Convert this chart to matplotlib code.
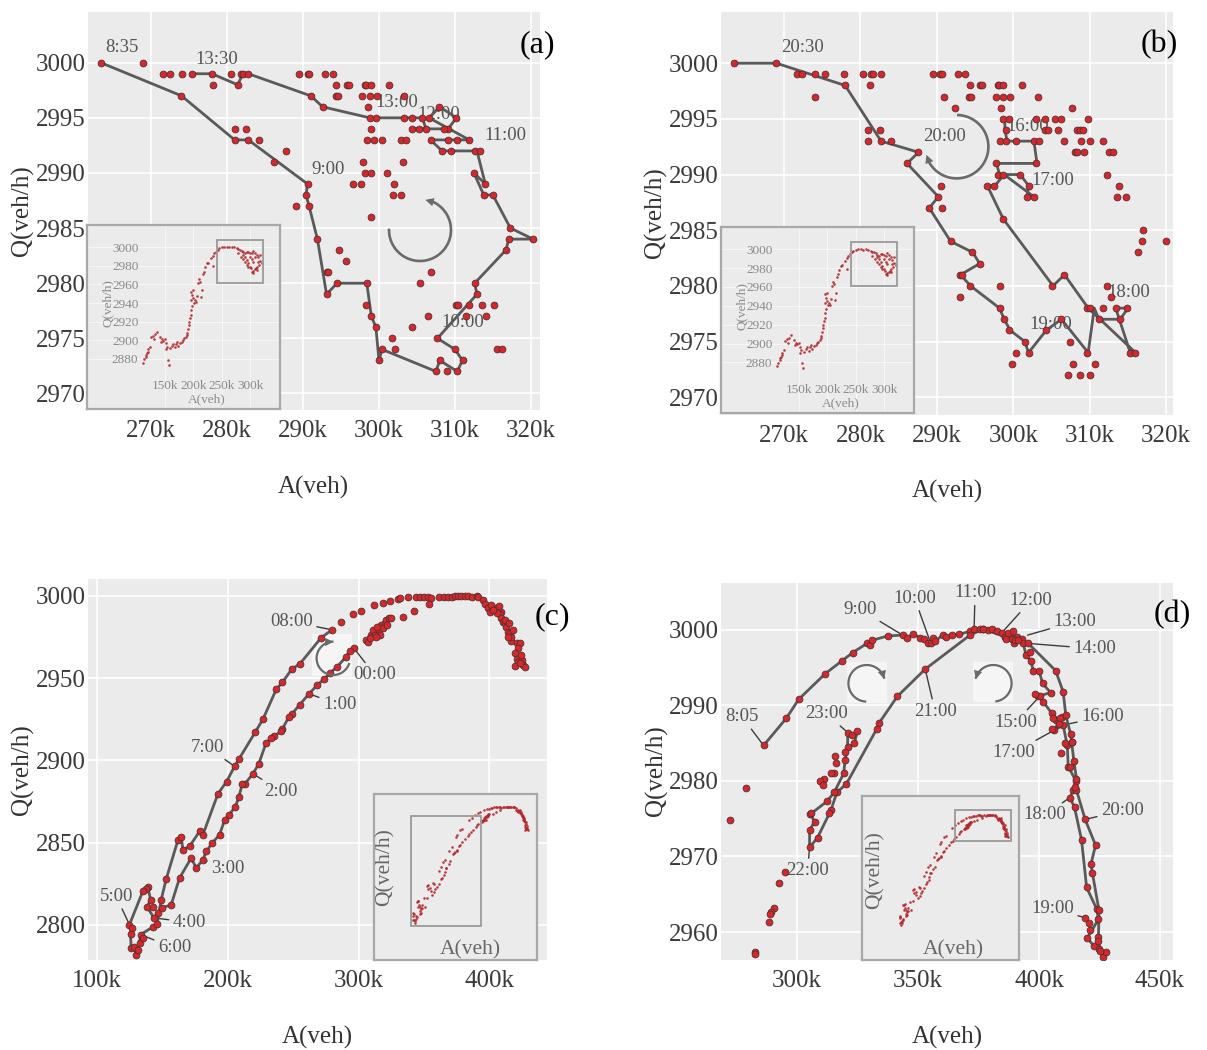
import numpy as np
import matplotlib
matplotlib.use("Agg")
import matplotlib.pyplot as plt
from matplotlib.patches import Rectangle, FancyArrowPatch
from matplotlib.lines import Line2D
from matplotlib.ticker import FuncFormatter

plt.rcParams['font.family'] = ['Liberation Serif', 'DejaVu Serif']

# ---------------- DATA (A in thousands of veh, Q in veh/h) ----------------
# panel (a): dots grouped by Q level
a_levels = [3000, 2999, 2998, 2997, 2996, 2995, 2994, 2993, 2992, 2991, 2990, 2989, 2988,
            2987, 2986, 2985, 2984, 2983, 2982, 2981, 2980, 2979, 2978, 2977, 2976, 2975,
            2974, 2973, 2972]
a_A_by_level = [
    [263.4, 269.0],
    [271.6, 272.5, 274.1, 275.4, 278.0, 280.5, 281.8, 282.1, 282.8, 289.5, 290.6, 290.8, 292.9, 293.9],
    [278.1, 281.4, 294.4, 295.8, 296.1, 298.1, 298.3, 299.0, 301.3],
    [274.0, 291.0, 294.3, 294.6, 297.8, 298.8, 299.8, 303.3],
    [292.6, 298.6, 307.9],
    [298.8, 299.6, 303.3, 304.4, 305.7, 306.6, 310.2],
    [281.0, 282.5, 299.0, 304.4, 305.3, 306.2, 309.1, 308.6],
    [281.0, 282.8, 284.2, 298.4, 299.3, 300.4, 302.9, 303.6, 306.8, 309.1, 310.3, 311.8],
    [287.7, 308.3, 309.5, 312.7, 313.3],
    [286.2, 297.9, 303.2],
    [298.2, 298.9, 301.1, 312.5],
    [290.6, 296.6, 297.7, 302.0, 314.0],
    [290.4, 301.9, 302.9, 313.8, 315.0],
    [289.1, 290.8],
    [298.9],
    [317.3],
    [291.9, 317.1, 320.3],
    [294.7, 316.7],
    [295.7],
    [293.1, 293.3, 306.9],
    [294.5, 298.4, 305.4, 312.6],
    [293.1, 312.9],
    [298.3, 310.1, 310.4, 311.8, 313.6, 315.2],
    [299.0, 306.4, 311.5, 314.1],
    [299.6, 304.4],
    [301.7, 307.7],
    [300.4, 302.1, 310.0, 315.6, 316.2],
    [300.0, 308.0, 311.0],
    [307.5, 308.9, 310.3],
]
a_path_A = [263.4, 274.0, 281.0, 282.8, 290.6, 290.4, 290.8, 291.9, 293.1, 294.5, 298.4, 299.0,
            299.6, 300.0, 300.4, 307.5, 308.0, 310.3, 311.0, 310.0, 307.7, 312.9, 312.6, 316.7,
            317.1, 320.3, 317.3, 315.0, 313.8, 312.5, 314.0, 312.9, 308.3, 306.8, 311.9, 306.6,
            308.0, 310.2, 309.1, 304.4, 306.2, 305.7, 303.3, 299.6, 298.8, 292.6, 291.0, 282.8,
            282.1, 281.4, 278.0, 275.4]
a_path_Q = [3000, 2997, 2993, 2993, 2989, 2988, 2987, 2984, 2979, 2980, 2980, 2977, 2976, 2973,
            2974, 2972, 2973, 2972, 2973, 2974, 2975, 2979, 2980, 2983, 2984, 2984, 2985, 2988,
            2988, 2990, 2989, 2992, 2992, 2993, 2993, 2995, 2996, 2995, 2994, 2994, 2994, 2995,
            2995, 2995, 2995, 2996, 2997, 2999, 2999, 2998, 2999, 2999]
a_labels = ['8:35', '13:30', '13:00', '12:00', '11:00', '9:00', '10:00']

# panel (b)
b_levels = a_levels
b_A_by_level = [
    [263.4, 269.0],
    [271.7, 272.4, 274.0, 275.3, 277.9, 280.3, 281.4, 281.7, 282.7, 289.5, 290.4, 290.7, 292.7, 293.7],
    [278.0, 281.3, 294.3, 295.7, 295.9, 298.0, 298.1, 298.7, 301.1],
    [274.0, 290.9, 294.2, 294.5, 297.7, 298.7, 299.6, 303.2],
    [292.4, 298.4, 307.7],
    [298.7, 299.4, 303.0, 304.1, 305.5, 306.3, 309.8],
    [281.0, 282.5, 299.0, 304.1, 304.6, 305.9, 308.3, 308.7, 309.1],
    [281.0, 282.7, 284.0, 298.3, 299.1, 300.3, 302.7, 303.4, 306.6, 308.9, 310.1, 311.7],
    [287.5, 308.1, 308.3, 309.3, 312.5, 313.0],
    [286.1, 297.8, 303.0],
    [298.0, 298.7, 300.9, 312.2],
    [290.5, 296.5, 297.5, 302.0, 313.8],
    [290.2, 301.8, 302.7, 313.6, 314.7],
    [289.0, 290.7],
    [298.7],
    [317.0],
    [291.8, 316.8, 320.0],
    [294.6, 316.3],
    [295.6],
    [293.0, 293.3, 306.7],
    [294.3, 298.2, 305.1, 312.3],
    [293.0, 312.8],
    [298.2, 309.7, 310.1, 311.7, 313.4, 314.9],
    [298.8, 306.2, 311.2, 313.9],
    [299.5, 304.3],
    [301.5, 307.4],
    [300.3, 302.0, 309.7, 315.3, 315.9],
    [299.8, 307.8, 310.7],
    [307.2, 308.7, 310.1],
]
b_path_A = [298.9, 298.9, 299.2, 302.7, 303.1, 297.8, 298.2, 300.9, 302.0, 301.8, 302.7, 298.8,
            297.6, 296.6, 298.7, 305.2, 306.7, 309.8, 316.0, 315.3, 313.4, 315.0, 314.0, 311.2,
            310.6, 309.8, 306.3, 304.3, 302.0, 301.5, 299.6, 298.8, 298.2, 294.4, 293.1, 295.6,
            294.7, 291.8, 289.0, 290.2, 286.1, 287.6, 282.7, 278.0, 269.0, 263.4]
b_path_Q = [2995, 2994, 2993, 2993, 2991, 2991, 2990, 2990, 2989, 2988, 2988, 2990, 2989, 2989,
            2986, 2980, 2981, 2978, 2974, 2974, 2978, 2978, 2977, 2977, 2978, 2974, 2977, 2976,
            2974, 2975, 2976, 2977, 2978, 2980, 2981, 2982, 2983, 2984, 2987, 2988, 2991, 2992,
            2993, 2998, 3000, 3000]
b_labels = ['20:30', '20:00', '16:00', '17:00', '18:00', '19:00']

# overview inset of (a)/(b)
ins_ab_A = [110.6, 113.5, 115.9, 117.6, 120.6, 116.5, 119.4, 124.7, 128.2, 132.4,
            135.3, 130.6, 123.5, 141.2, 142.9, 144.1, 147.1, 150.0, 151.8, 154.1,
            151.8, 155.9, 157.6, 158.8, 161.8, 164.7, 167.6, 169.4, 170.6, 173.5,
            176.5, 179.4, 182.4, 183.5, 187.1, 188.2, 189.4, 191.2, 191.8, 192.9,
            194.1, 195.3, 195.9, 197.1, 195.9, 197.1, 195.3, 198.8, 200.0, 202.9,
            204.7, 201.2, 205.9, 208.8, 211.8, 210.6, 214.7, 212.9, 216.5, 218.8,
            220.6, 223.5, 226.5, 230.6, 234.1, 237.1, 240.0, 242.9, 245.9, 250.0,
            254.1, 258.8, 263.5, 267.6, 271.8, 276.5, 279.4, 282.4, 285.3, 288.2,
            291.2, 294.1, 297.1, 300.0, 302.9, 305.9, 308.8, 311.8, 314.7, 317.6,
            320.6, 316.5, 311.8, 308.8, 305.9, 302.9, 300.0, 297.1, 294.1, 291.2,
            288.2, 305.9, 310.0, 312.9, 279.4, 283.5, 287.1, 291.2, 294.1, 297.1,
            301.2, 304.7, 234.1, 300.0, 302.9, 308.8, 314.7, 317.6]
ins_ab_Q = [2876.1, 2879.6, 2882.5, 2886.1, 2887.9, 2884.3, 2890.4, 2903.2, 2904.6, 2906.4,
            2908.9, 2901.1, 2893.2, 2903.9, 2898.6, 2901.1, 2899.6, 2901.1, 2896.8, 2893.2,
            2890.4, 2878.9, 2873.6, 2891.4, 2893.9, 2896.1, 2892.5, 2896.1, 2898.6, 2893.9,
            2897.5, 2898.6, 2900.4, 2902.1, 2903.9, 2905.7, 2908.2, 2911.8, 2916.4, 2920.0,
            2923.6, 2927.1, 2932.5, 2936.8, 2943.2, 2948.6, 2952.1, 2953.9, 2945.0, 2943.2,
            2941.4, 2940.4, 2947.5, 2961.1, 2962.9, 2965.4, 2953.9, 2946.1, 2971.1, 2973.6,
            2978.2, 2982.5, 2983.2, 2987.9, 2990.4, 2993.2, 2995.0, 2996.8, 2998.6, 2999.6,
            3000.4, 3000.4, 2999.6, 3000.4, 2999.6, 2998.6, 2997.5, 2996.8, 2996.1, 2994.3,
            2993.2, 2995.0, 2995.0, 2993.9, 2993.2, 2996.1, 2993.9, 2991.4, 2988.9, 2985.4,
            2983.2, 2980.7, 2978.9, 2976.1, 2974.6, 2973.6, 2978.9, 2982.5, 2986.1, 2989.6,
            2991.4, 2984.3, 2977.1, 2975.4, 2993.2, 2989.6, 2986.8, 2984.3, 2980.7, 2978.9,
            2977.1, 2972.5, 2979.6, 2989.6, 2986.8, 2989.6, 2984.3, 2991.4]

# panel (c): connected trajectory 00:00 -> 08:00
c_path_A = [296.4, 293.1, 290.1, 283.7, 277.8, 273.5, 268.4, 262.0, 254.8, 249.0,
            246.4, 241.6, 240.3, 235.2, 233.2, 229.3, 223.5, 219.1, 212.8, 211.0,
            208.2, 205.6, 200.8, 197.4, 193.6, 188.0, 183.4, 180.9, 175.8, 171.9,
            163.0, 156.6, 149.5, 146.4, 143.4, 138.3, 140.8, 138.8, 137.0, 134.9,
            124.7, 126.5, 125.5, 126.0, 128.1, 129.8, 131.1, 132.4, 133.2, 142.6,
            145.9, 149.0, 152.8, 161.7, 164.3, 165.6, 170.7, 178.3, 180.9, 192.3,
            199.0, 205.1, 208.4, 220.9, 226.8, 237.0, 241.6, 249.0, 254.8, 271.4, 279.6]
c_path_Q = [2968.2, 2966.6, 2962.8, 2957.1, 2953.0, 2949.4, 2945.9, 2940.5, 2933.8, 2928.3,
            2926.3, 2919.0, 2917.6, 2914.6, 2913.6, 2910.9, 2897.8, 2891.9, 2885.6, 2885.6,
            2877.5, 2871.7, 2867.0, 2863.6, 2854.9, 2849.8, 2844.7, 2839.7, 2834.6, 2840.7,
            2828.5, 2812.3, 2810.3, 2807.3, 2804.3, 2810.9, 2815.4, 2822.9, 2821.9, 2820.4,
            2800.2, 2798.2, 2794.7, 2786.0, 2786.6, 2782.0, 2785.0, 2789.1, 2794.1, 2798.8,
            2800.8, 2815.4, 2827.9, 2851.4, 2853.4, 2845.7, 2847.8, 2856.9, 2854.9, 2879.6,
            2887.2, 2896.4, 2900.8, 2917.2, 2925.1, 2943.3, 2947.4, 2955.7, 2958.5, 2974.7, 2979.4]
# panel (c): unconnected dots (day-time arc, evening cluster)
c_dot_A = [286.7, 295.7, 301.5, 311.7, 318.6, 323.7, 330.1, 331.9, 337.8, 344.1,
           346.7, 350.0, 353.1, 355.6, 353.8, 361.5, 365.3, 368.4, 371.7, 373.5,
           376.0, 378.6, 381.1, 383.7, 386.7, 390.1, 391.3, 395.2, 396.4, 399.0,
           400.3, 404.1, 407.1, 409.2, 407.9, 409.2, 410.5, 411.7, 413.0, 414.3,
           415.6, 416.8, 420.7, 423.2, 421.9, 419.4, 420.7, 421.9, 424.5, 425.8,
           427.0, 419.4, 401.5, 405.4, 412.2, 416.3, 418.1, 402.8, 414.8, 413.8,
           424.0, 423.2,
           305.9, 307.1, 309.7, 311.0, 312.8, 315.3, 317.3, 319.9, 321.2, 323.0,
           325.0, 318.6, 316.1, 313.5, 308.4, 314.3, 321.9, 334.0, 342.3, 142.6, 134.9]
c_dot_Q = [2984.4, 2988.9, 2990.9, 2994.5, 2996.0, 2997.0, 2998.2, 2998.6, 2999.2, 2999.6,
           2999.6, 2999.6, 2999.2, 2998.6, 2994.9, 2999.6, 2999.2, 2999.6, 2999.6, 3000.0,
           3000.2, 3000.0, 3000.0, 3000.2, 2999.6, 3000.0, 2999.2, 2997.6, 2995.1, 2992.5,
           2990.5, 2992.5, 2993.9, 2990.5, 2988.9, 2986.4, 2984.4, 2983.4, 2981.4, 2978.3,
           2977.3, 2972.7, 2971.3, 2971.7, 2968.2, 2965.2, 2961.5, 2960.1, 2961.1, 2958.1,
           2956.7, 2957.5, 2994.5, 2989.5, 2985.4, 2975.3, 2979.4, 2991.5, 2983.4, 2975.3,
           2964.2, 2959.1,
           2973.3, 2972.3, 2976.3, 2979.4, 2976.3, 2979.4, 2982.4, 2983.4, 2985.4, 2986.4,
           2986.8, 2980.4, 2976.3, 2975.3, 2974.3, 2981.0, 2982.4, 2987.4, 2991.1, 2810.9, 2792.1]
c_labels = ['08:00', '00:00', '1:00', '2:00', '3:00', '4:00', '5:00', '6:00', '7:00']

# panel (d)
d_path_A = [286.2, 295.6, 300.7, 311.7, 318.6, 323.1, 328.9, 330.0, 330.9, 337.6,
            343.7, 345.4, 348.1, 350.9, 352.3, 354.3, 355.3, 356.4, 357.1, 360.2,
            361.5, 364.0, 367.1, 371.3, 373.2,
            375.7, 377.0, 379.1, 380.5, 382.5, 384.6, 386.0, 388.0, 391.1, 392.8, 393.5,
            394.6, 396.6, 397.7, 400.1, 401.5, 404.8, 399.7, 400.3, 401.7, 405.2,
            407.0, 409.4, 406.2, 410.0, 411.7, 412.1, 415.3, 414.2, 412.8, 414.7,
            417.6, 419.7, 423.8, 424.6, 420.0, 422.6, 424.9, 426.3, 427.8,
            425.3, 424.6, 424.8, 422.1, 421.5, 423.4, 419.1, 415.5, 415.5, 414.4,
            413.5, 413.1, 411.1, 410.0, 406.9, 395.6, 386.0, 377.0, 371.5,
            353.0, 341.5, 334.0, 333.0, 320.4, 316.5, 314.0, 308.5, 305.2, 305.2,
            307.3, 305.5, 312.4, 315.4, 319.3, 319.9, 320.9, 321.0, 322.7, 325.0, 323.7, 319.9]
d_path_Q = [2984.7, 2988.3, 2990.8, 2994.2, 2995.9, 2997.0, 2998.2, 2998.0, 2998.6, 2999.2,
            2999.3, 2998.9, 2999.5, 2998.9, 2998.8, 2998.3, 2998.2, 2998.9, 2998.5, 2999.3,
            2999.0, 2999.3, 2999.4, 2999.8, 3000.1,
            3000.1, 3000.1, 3000.0, 3000.1, 2999.8, 2999.6, 2999.1, 2999.1, 2999.1, 2998.8, 2998.3,
            2996.7, 2995.9, 2994.6, 2994.5, 2992.9, 2991.7, 2991.2, 2991.2, 2990.5, 2989.0,
            2988.1, 2988.4, 2986.7, 2987.4, 2984.7, 2981.9, 2980.0, 2978.8, 2977.8, 2976.5,
            2972.2, 2965.9, 2963.1, 2961.7, 2959.2, 2958.2, 2957.7, 2956.7, 2957.3,
            2957.5, 2959.3, 2962.9, 2967.8, 2969.0, 2971.5, 2974.9, 2978.8, 2980.3, 2982.7,
            2985.2, 2986.2, 2988.7, 2991.8, 2994.6, 2998.2, 2999.1, 3000.1, 2999.3,
            2994.8, 2991.2, 2987.7, 2986.9, 2979.6, 2978.5, 2976.1, 2972.5, 2971.2, 2973.5,
            2974.6, 2975.6, 2977.3, 2978.5, 2981.0, 2982.8, 2984.5, 2986.4, 2986.1, 2986.6, 2985.0, 2983.8]
d_dot_A = [386.4, 387.3, 388.7, 389.8, 390.1, 391.5, 389.4, 396.3, 398.4, 405.2,
           405.9, 408.7, 408.4, 410.7, 409.1, 412.8, 414.9, 421.1, 419.0, 420.8, 424.6, 413.5,
           315.8, 316.2, 315.1, 314.0, 311.3, 309.4, 310.7, 305.8, 313.1,
           272.2, 279.1, 295.2, 292.4, 290.4, 289.4, 289.0, 288.3, 282.5, 282.5]
d_dot_Q = [2998.8, 2999.6, 2998.8, 2998.2, 2998.7, 2998.7, 2999.8, 2997.1, 2991.5, 2986.9,
           2988.3, 2988.3, 2987.5, 2985.0, 2983.7, 2981.8, 2979.2, 2960.3, 2961.9, 2961.2, 2958.8, 2985.2,
           2983.3, 2982.4, 2981.1, 2981.0, 2980.2, 2980.0, 2979.4, 2975.7, 2975.8,
           2974.8, 2979.1, 2967.9, 2966.5, 2963.2, 2962.7, 2962.4, 2961.3, 2957.4, 2957.1]
d_labels = ['8:05', '9:00', '10:00', '11:00', '12:00', '13:00', '14:00', '15:00', '16:00',
            '17:00', '18:00', '19:00', '20:00', '21:00', '22:00', '23:00']

for a_, b_ in [(a_path_A, a_path_Q), (b_path_A, b_path_Q), (c_path_A, c_path_Q),
               (c_dot_A, c_dot_Q), (d_path_A, d_path_Q), (d_dot_A, d_dot_Q), (ins_ab_A, ins_ab_Q)]:
    assert len(a_) == len(b_), (len(a_), len(b_))

# ---------------- FIGURE ----------------
W, H = 1207, 1050
fig = plt.figure(figsize=(W / 100, H / 100), dpi=100)

BG = '#ebebeb'
DOT = '#d8262b'
DOT_EDGE = '#4d3333'
LINE = '#5a5a5a'
LAB_C = '#555555'
TICK_C = '#3a3a3a'
ARC_C = '#6a6a6a'


def px_axes(l, t, r, b):
    return fig.add_axes([l / W, 1 - b / H, (r - l) / W, (b - t) / H])


kfmt = FuncFormatter(lambda v, p: f"{int(round(v))}k")


def style_main(ax, xlim, ylim, xticks, yticks):
    ax.set_facecolor(BG)
    for s in ax.spines.values():
        s.set_visible(False)
    ax.set_xlim(*xlim)
    ax.set_ylim(*ylim)
    ax.set_xticks(xticks)
    ax.set_yticks(yticks)
    ax.xaxis.set_major_formatter(kfmt)
    ax.tick_params(length=0, labelsize=18, colors=TICK_C)
    ax.tick_params(axis='x', pad=7)
    ax.tick_params(axis='y', pad=1.5)
    ax.grid(True, color='white', lw=1.2)
    ax.set_axisbelow(True)


def dots(ax, A, Q):
    ax.scatter(A, Q, s=24, c=DOT, edgecolors=DOT_EDGE, linewidths=0.6, zorder=4)


def path(ax, A, Q):
    ax.plot(A, Q, color=LINE, lw=2.0, zorder=3, solid_joinstyle='round')


def level_points(levels, by_level):
    A, Q = [], []
    for q, row in zip(levels, by_level):
        A.extend(row)
        Q.extend([q] * len(row))
    return A, Q


def arc_arrow(cx, cy, r, a0, a1, color=ARC_C, lw=1.9):
    t = np.radians(np.linspace(a0, a1, 160))
    X = (cx + r * np.cos(t)) / W
    Y = (H - cy + r * np.sin(t)) / H
    fig.add_artist(Line2D(X[:-8], Y[:-8], transform=fig.transFigure, color=color, lw=lw))
    fig.add_artist(FancyArrowPatch((X[-14], Y[-14]), (X[-1], Y[-1]), transform=fig.transFigure,
                                   arrowstyle='-|>', mutation_scale=15, color=color, lw=0))


def light_square(ax, l, t, r, b):
    ax.add_patch(Rectangle((l / W, 1 - b / H), (r - l) / W, (b - t) / H, transform=fig.transFigure,
                           facecolor='#f5f5f5', edgecolor='none', zorder=0.6))


def lead(ax, txt, xy, xytext):
    ax.annotate(txt, xy=xy, xytext=xytext, fontsize=13.5, color=LAB_C, ha='center', va='center',
                zorder=2, arrowprops=dict(arrowstyle='-', color='#3c3c3c', lw=1.0,
                                          shrinkA=1, shrinkB=2))


def inset_ab(l, t, r, b):
    ax = px_axes(l, t, r, b)
    ax.set_facecolor(BG)
    for s in ax.spines.values():
        s.set_color('#a8a8a8')
        s.set_linewidth(1.6)
    ax.set_xlim(12.4, 352.8)
    ax.set_ylim(2826.4, 3023.6)
    ax.set_xticks([150, 200, 250, 300])
    ax.set_yticks([2880, 2900, 2920, 2940, 2960, 2980, 3000])
    ax.xaxis.set_major_formatter(kfmt)
    ax.tick_params(length=0, labelsize=9.5, colors='#8a8a8a')
    ax.tick_params(axis='y', pad=-37)
    ax.tick_params(axis='x', pad=-21)
    ax.grid(True, color='white', lw=0.8, alpha=0.6)
    ax.set_axisbelow(True)
    ax.scatter(ins_ab_A, ins_ab_Q, s=3.5, c='#b3282c', linewidths=0, alpha=0.9)
    ax.add_patch(Rectangle((241.2, 2961.1), 82.2, 46.4, fill=False, edgecolor='#9a9a9a', lw=1.3))
    ax.text(0.109, 0.575, 'Q(veh/h)', rotation=90, transform=ax.transAxes, fontsize=9.5,
            color='#8a8a8a', ha='center', va='center')
    ax.text(0.62, 0.053, 'A(veh)', transform=ax.transAxes, fontsize=9.5,
            color='#8a8a8a', ha='center', va='center')
    return ax


def inset_cd(l, t, r, b, xlim, ylim, rect, qpos, apos):
    ax = px_axes(l, t, r, b)
    ax.set_facecolor(BG)
    for s in ax.spines.values():
        s.set_color('#a8a8a8')
        s.set_linewidth(1.6)
    ax.set_xlim(*xlim)
    ax.set_ylim(*ylim)
    ax.set_xticks([])
    ax.set_yticks([])
    ax.scatter(c_path_A + c_dot_A, c_path_Q + c_dot_Q, s=3.5, c='#b3282c', linewidths=0, alpha=0.9)
    ax.add_patch(Rectangle(rect[:2], rect[2], rect[3], fill=False, edgecolor='#9a9a9a', lw=1.3))
    ax.text(qpos[0], qpos[1], 'Q(veh/h)', rotation=90, transform=ax.transAxes, fontsize=15.5,
            color='#666666', ha='center', va='center')
    ax.text(apos[0], apos[1], 'A(veh)', transform=ax.transAxes, fontsize=15.5,
            color='#666666', ha='center', va='center')
    return ax


# ---------- panel (a) ----------
axa = px_axes(88, 12, 540, 410)
style_main(axa, (261.7, 321.2), (2968.5, 3004.6), [270, 280, 290, 300, 310, 320],
           [2970, 2975, 2980, 2985, 2990, 2995, 3000])
A, Q = level_points(a_levels, a_A_by_level)
path(axa, a_path_A, a_path_Q)
dots(axa, A, Q)
for txt, pos in zip(a_labels, [(266.2, 3001.4), (278.7, 3000.3), (302.4, 2996.4), (307.9, 2995.3),
                               (316.7, 2993.4), (293.3, 2990.3), (311.1, 2976.4)]):
    axa.text(pos[0], pos[1], txt, fontsize=13.5, color=LAB_C, ha='center', va='center', zorder=2)
inset_ab(87, 225, 280, 409)

# ---------- panel (b) ----------
axb = px_axes(721, 12, 1173, 415)
style_main(axb, (261.75, 320.9), (2968.4, 3004.6), [270, 280, 290, 300, 310, 320],
           [2970, 2975, 2980, 2985, 2990, 2995, 3000])
A, Q = level_points(b_levels, b_A_by_level)
path(axb, b_path_A, b_path_Q)
dots(axb, A, Q)
for txt, pos in zip(b_labels, [(272.4, 3001.4), (291.0, 2993.4), (301.9, 2994.3), (305.2, 2989.5),
                               (315.1, 2979.4), (304.9, 2976.5)]):
    axb.text(pos[0], pos[1], txt, fontsize=13.5, color=LAB_C, ha='center', va='center', zorder=2)
inset_ab(721, 227, 914, 413)

# ---------- panel (c) ----------
axc = px_axes(88, 579, 547, 960)
style_main(axc, (93, 444), (2778.7, 3010.3), [100, 200, 300, 400], [2800, 2850, 2900, 2950, 3000])
light_square(axc, 312, 634, 352, 676)
path(axc, c_path_A, c_path_Q)
dots(axc, c_path_A, c_path_Q)
dots(axc, c_dot_A, c_dot_Q)
c_lab_text = [(248.5, 2984.4), (312.2, 2952.0), (285.5, 2933.8), (240.8, 2881.2), (200.0, 2834.6),
              (170.7, 2801.6), (114.5, 2817.4), (159.2, 2786.0), (184.7, 2907.9)]
c_lab_pt = [(279.6, 2979.4), (296.4, 2968.2), (262.0, 2940.5), (219.1, 2891.9), (180.9, 2839.7),
            (143.4, 2804.3), (124.7, 2800.2), (133.2, 2794.1), (205.1, 2896.4)]
for txt, tp, pp in zip(c_labels, c_lab_text, c_lab_pt):
    lead(axc, txt, pp, tp)
inset_cd(374, 794, 537, 960, (22.4, 451), (2711.4, 3024.5), (119, 2776, 186, 207.6),
         (0.067, 0.562), (0.589, 0.06))

# ---------- panel (d) ----------
axd = px_axes(721, 583, 1173, 960)
style_main(axd, (268.6, 455.4), (2956.3, 3006.2), [300, 350, 400, 450], [2960, 2970, 2980, 2990, 3000])
light_square(axd, 847, 662, 887, 703)
light_square(axd, 973, 662, 1013, 702)
path(axd, d_path_A, d_path_Q)
dots(axd, d_path_A, d_path_Q)
dots(axd, d_dot_A, d_dot_Q)
d_lab_text = [(277.3, 2988.5), (326.1, 3002.7), (348.6, 3004.2), (373.6, 3004.9), (396.7, 3003.9),
              (414.9, 3001.1), (423.1, 2997.5), (390.5, 2987.8), (426.3, 2988.5), (389.8, 2983.8),
              (402.5, 2975.5), (405.6, 2963.1), (434.5, 2976.1), (357.1, 2989.2), (304.4, 2968.1),
              (312.1, 2988.9)]
d_lab_pt = [(286.2, 2984.7), (343.7, 2999.3), (355.3, 2998.2), (373.2, 3000.1), (384.6, 2999.6),
            (394.2, 2999.2), (395.6, 2998.2), (400.3, 2991.2), (410.0, 2987.4), (406.2, 2986.7),
            (412.8, 2977.8), (419.0, 2961.9), (419.1, 2974.9), (353.0, 2994.8), (305.2, 2971.2),
            (321.0, 2986.4)]
for txt, tp, pp in zip(d_labels, d_lab_text, d_lab_pt):
    lead(axd, txt, pp, tp)
inset_cd(862, 796, 1019, 960, (19.7, 458.5), (2712, 3038), (278.6, 2949, 156.4, 61),
         (0.083, 0.549), (0.58, 0.061))

# ---------- rotation arrows ----------
arc_arrow(420, 230, 31, 180, 445)
arc_arrow(956.7, 146.7, 31.7, 87, -170)
arc_arrow(333.3, 658.3, 16.7, -20, -280, lw=1.6)
arc_arrow(866.7, 683.3, 18.3, -95, -355, lw=1.6)
arc_arrow(993.3, 683.3, 18.3, -80, 175, lw=1.6)

# ---------- axis titles & panel letters ----------
def ftext(x, y, s, **kw):
    fig.text(x / W, 1 - y / H, s, ha='center', va='center', **kw)

for (qx, qy), (ax_, ay_) in [((22, 211), (313, 487)), ((655, 213), (947, 491)),
                             ((22, 770), (317, 1037)), ((656, 771), (947, 1037))]:
    ftext(qx, qy, 'Q(veh/h)', rotation=90, fontsize=18, color='#333333')
    ftext(ax_, ay_, 'A(veh)', fontsize=18, color='#333333')

for s, (x, y) in zip(['(a)', '(b)', '(c)', '(d)'], [(537, 45), (1159, 45), (552, 617), (1172, 615)]):
    ftext(x, y, s, fontsize=23, color='black')

fig.savefig('out.png', dpi=100, facecolor='white')
